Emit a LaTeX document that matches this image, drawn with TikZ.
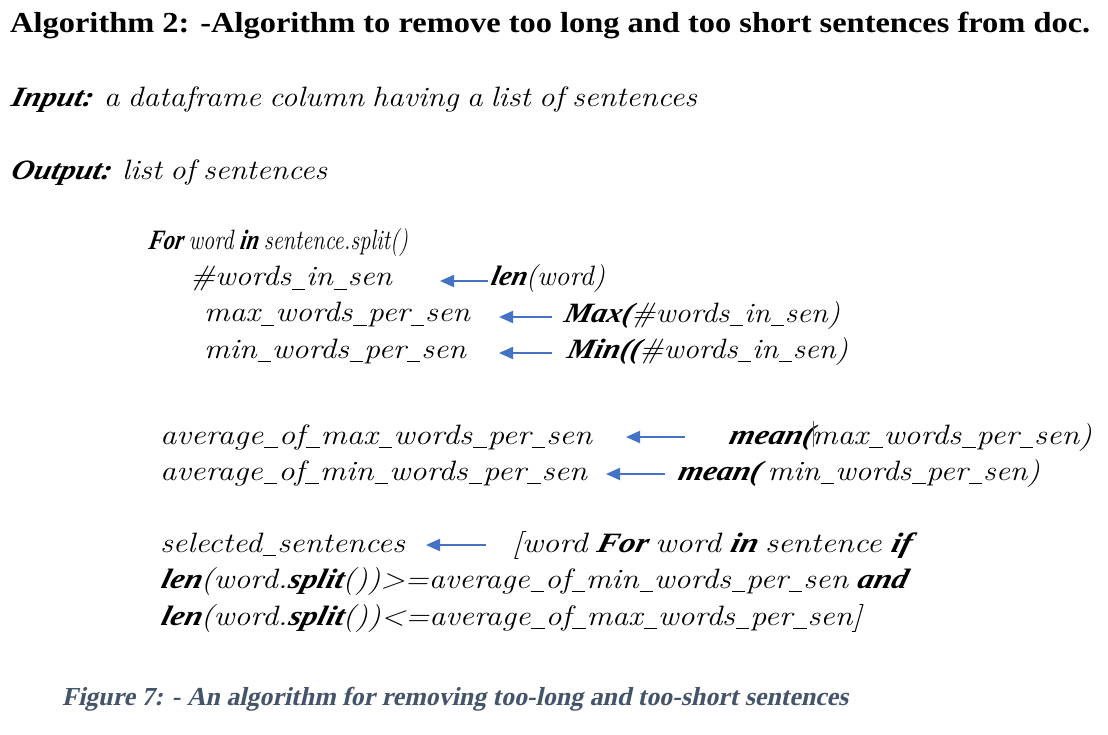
\documentclass[tikz,border=0pt]{standalone}
\usepackage{fontspec}
\usepackage{graphicx}
\usetikzlibrary{arrows.meta}
\newfontfamily\timesfont{Liberation Serif}
\newfontfamily\timesbi{Liberation Serif}[FakeSlant=0.22]
\definecolor{arrblue}{HTML}{4472C4}
\definecolor{capcol}{HTML}{44546A}
\newcommand{\B}[1]{{\timesbi\bfseries #1}}
\newcommand{\us}{\kern0.03em\rule[-0.16em]{0.42em}{0.055em}\kern0.03em}
\newcommand{\fitw}[2]{\resizebox{#1pt}{\height}{\spaceskip=0.26em plus 0.05em\relax #2}}
\newcommand{\plainw}[2]{\resizebox{#1pt}{\height}{#2}}
\newcommand{\cursormark}{\rlap{\kern0.02em\color{black!65}\rule[-0.12em]{0.03em}{0.95em}}}
\tikzset{
  txt/.style={anchor=base west, inner sep=0pt, outer sep=0pt, font=\fontsize{28}{32}\selectfont\itshape},
  ttl/.style={anchor=base west, inner sep=0pt, font=\fontsize{29}{34}\selectfont\timesfont\bfseries},
  captext/.style={anchor=base west, inner sep=0pt, text=capcol, font=\fontsize{26}{30}\selectfont\timesbi\bfseries},
  arr/.style={draw=arrblue, line width=2pt, -{Triangle[length=14pt,width=12pt]}},
}
\begin{document}
\begin{tikzpicture}[x=1pt,y=-1pt]
\useasboundingbox[fill=white] (0,0) rectangle (1108,735);
% title and header
\node[ttl] (title) at (10,33) {\plainw{1080}{Algorithm 2: -Algorithm to remove too long and too short sentences from doc.}};
\node[txt] (input) at (10,107) {\fitw{687}{\B{Input:} a dataframe column having a list of sentences}};
\node[txt] (output) at (10,180) {\fitw{317}{\B{Output:} list of sentences}};
% block 1
\node[txt] (for) at (148,250) {\fitw{260}{\B{For} word \B{in} sentence.split()}};
\node[txt] (win) at (190,286) {\fitw{202}{\#words\us in\us sen}};
\node[txt] (len) at (490,286) {\fitw{115}{\B{len}(word)}};
\node[txt] (maxw) at (204,322) {\fitw{266}{max\us words\us per\us sen}};
\node[txt] (maxf) at (563,322) {\fitw{277}{\B{Max(}\#words\us in\us sen)}};
\node[txt] (minw) at (204,358) {\fitw{262}{min\us words\us per\us sen}};
\node[txt] (minf) at (566,358) {\fitw{282}{\B{Min((}\#words\us in\us sen)}};
% block 2
\node[txt] (avmax) at (160,444) {\fitw{432}{average\us of\us max\us words\us per\us sen}};
\node[txt] (meanmax) at (728,444) {\fitw{364}{\B{mean(}\cursormark max\us words\us per\us sen)}};
\node[txt] (avmin) at (160,480) {\fitw{427}{average\us of\us min\us words\us per\us sen}};
\node[txt] (meanmin) at (677,480) {\fitw{363}{\B{mean(} min\us words\us per\us sen)}};
% block 3
\node[txt] (sel) at (160,552) {\fitw{245}{selected\us sentences}};
\node[txt] (comp1) at (512,552) {\fitw{398}{[word \B{For} word \B{in} sentence \B{if}}};
\node[txt] (comp2) at (160,588) {\fitw{746}{\B{len}(word.\B{split}())>=average\us of\us min\us words\us per\us sen \B{and}}};
\node[txt] (comp3) at (160,625) {\fitw{702}{\B{len}(word.\B{split}())<=average\us of\us max\us words\us per\us sen]}};
% caption
\node[captext] (caption) at (62,705) {\plainw{786}{Figure 7: - An algorithm for removing too-long and too-short sentences}};
% arrows
\coordinate (a1s) at (488,281); \coordinate (a1e) at (440,281);
\coordinate (a2s) at (552,317); \coordinate (a2e) at (499,317);
\coordinate (a3s) at (552,353); \coordinate (a3e) at (499,353);
\coordinate (a4s) at (685,437); \coordinate (a4e) at (626,437);
\coordinate (a5s) at (665,474); \coordinate (a5e) at (606,474);
\coordinate (a6s) at (486,545); \coordinate (a6e) at (426,545);
\draw[arr] (a1s) -- (a1e);
\draw[arr] (a2s) -- (a2e);
\draw[arr] (a3s) -- (a3e);
\draw[arr] (a4s) -- (a4e);
\draw[arr] (a5s) -- (a5e);
\draw[arr] (a6s) -- (a6e);
\end{tikzpicture}
\end{document}
